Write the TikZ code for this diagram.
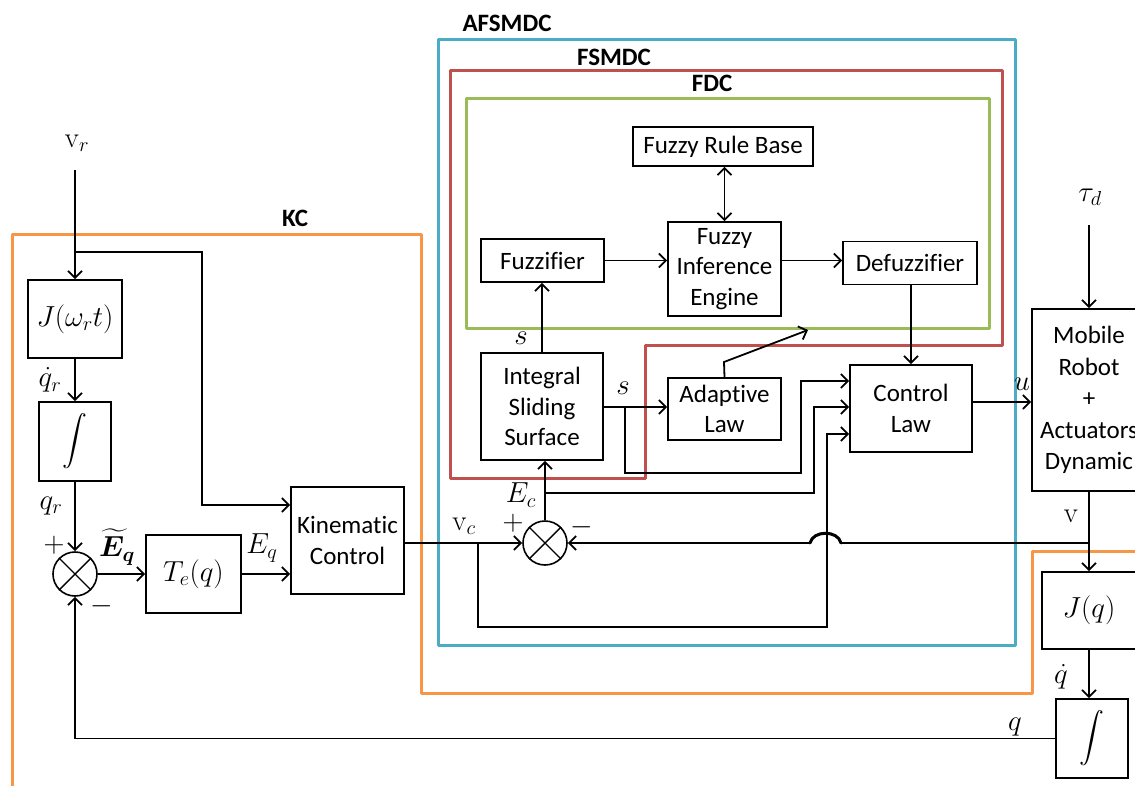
\RequirePackage{fix-cm}
\documentclass[tikz,border=0pt]{standalone}
\usepackage{amsmath,bm}
\usepackage[no-math]{fontspec}
\setmainfont[Ligatures=NoCommon]{Carlito}
\usetikzlibrary{arrows.meta}
\definecolor{kcorange}{HTML}{F79646}
\definecolor{afblue}{HTML}{4BACC6}
\definecolor{fsred}{HTML}{C0504D}
\definecolor{fdgreen}{HTML}{9BBB59}
\begin{document}
\begin{tikzpicture}[x=1pt,y=-1pt,
  font=\fontsize{25}{30.5}\selectfont,
  line width=1.8pt,
  >={Straight Barb[length=7pt,width=14pt]},
  blk/.style={draw, line width=1.6pt, align=center, inner sep=0pt},
  mth/.style={font=\fontsize{29}{34}\selectfont},
  sumn/.style={draw, circle, minimum size=44pt, inner sep=0pt, line width=1.6pt},
  lbl/.style={inner sep=0pt, font=\fontsize{29}{34}\selectfont},
  frame/.style={line width=3pt, line join=round},
  ttl/.style={font=\fontsize{25}{30}\selectfont\bfseries, inner sep=0pt}]
\useasboundingbox (0,0) rectangle (1135,785);

% frames
\draw[frame, kcorange] (12,800) -- (12,234) -- (421,234) -- (421,693) -- (1032,693) -- (1032,551) -- (1150,551);
\draw[frame, afblue] (438,39) rectangle (1015,645);
\draw[frame, fsred] (450,70) -- (1002,70) -- (1002,345) -- (645,345) -- (645,478) -- (450,478) -- cycle;
\draw[frame, fdgreen] (466,98) rectangle (989,328);
\node[ttl] (tkc) at (295,218) {KC};
\node[ttl] (taf) at (507,23) {AFSMDC};
\node[ttl] (tfs) at (614,57) {FSMDC};
\node[ttl] (tfd) at (712,83) {FDC};

% blocks
\node[lbl] (vr) at (77,143) {$\mathrm{v}_r$};
\node[blk, mth, minimum width=94pt, minimum height=78pt] (jw) at (75,319) {$J(\omega_r t)$};
\node[blk, minimum width=72pt, minimum height=79pt] (int1) at (75,441.5) {$\displaystyle\int$};
\node[sumn] (s1) at (75,574) {};
\node[blk, mth, minimum width=95pt, minimum height=78pt] (te) at (193.5,574) {$T_e(q)$};
\node[blk, minimum width=113pt, minimum height=107pt] (kin) at (347.5,540.5) {Kinematic\\Control};
\node[blk, minimum width=122pt, minimum height=107pt] (iss) at (542,406.5) {Integral\\Sliding\\Surface};
\node[blk, minimum width=123pt, minimum height=43pt] (fuz) at (542.5,260.5) {Fuzzifier};
\node[blk, minimum width=180pt, minimum height=39pt] (frb) at (723,146.5) {Fuzzy Rule Base};
\node[blk, minimum width=113pt, minimum height=94pt] (fie) at (724.5,269) {Fuzzy\\Inference\\Engine};
\node[blk, minimum width=134pt, minimum height=43pt] (dfz) at (910,263) {Defuzzifier};
\node[blk, minimum width=113pt, minimum height=62pt] (adl) at (724.5,409) {Adaptive\\Law};
\node[blk, minimum width=122pt, minimum height=87pt] (cl) at (911,408.5) {Control\\Law};
\node[sumn] (s2) at (545,543) {};
\node[blk, minimum width=114pt, minimum height=182pt, font=\fontsize{25}{31.5}\selectfont] (rob) at (1089,400) {Mobile\\Robot\\+\\Actuators\\Dynamic};
\node[lbl] (tau) at (1090,197) {$\tau_d$};
\node[blk, mth, minimum width=94pt, minimum height=77pt] (jq) at (1089,610.5) {$J(q)$};
\node[blk, minimum width=72pt, minimum height=79pt] (int2) at (1092,738.5) {$\displaystyle\int$};

% summing crosses
\foreach \s in {s1,s2} {
  \draw[line width=1.4pt] (\s.north east) -- (\s.south west) (\s.north west) -- (\s.south east);
}

% helper coordinates
\coordinate (vrs) at (75,170);
\coordinate (taus) at (1089,225);
\coordinate (b1) at (75,252);
\coordinate (k1) at (202,505);
\coordinate (bvc) at (478,543);
\coordinate (c827) at (827,627);
\coordinate (bv) at (1089,543);
\coordinate (hr) at (841,543);
\coordinate (hl) at (810,543);
\coordinate (bs) at (625,407);
\coordinate (b801) at (801,473);
\coordinate (bec) at (545,493);
\coordinate (b814) at (814,493);
\coordinate (ad1) at (724,362);
\coordinate (ad2) at (808,330);
\coordinate (cin1) at ([yshift=27.5pt]cl.west);
\coordinate (cin2) at ([yshift=1.5pt]cl.west);
\coordinate (cin3) at ([yshift=-25.5pt]cl.west);
\coordinate (cout) at ([yshift=6.5pt]cl.east);

% connectors
\draw[->] (vrs) -- (jw.north);
\draw[->] (b1) -| (k1) -- (k1 -| kin.west);
\draw[->] (jw.south) -- (int1.north);
\draw[->] (int1.south) -- (s1.north);
\draw[->] (s1.east) -- (te.west);
\draw[->] (te.east) -- (kin.west |- te.east);
\draw[->] (kin.east |- s2.west) -- (s2.west);
\draw[->] (bvc) |- (c827) |- (cin3);
\draw[->] (bv) -- (hr) .. controls (838,530) and (813,530) .. (hl) -- (s2.east);
\draw[line width=3pt, line cap=round] (hr) .. controls (838,530) and (813,530) .. (hl);
\draw[->] (s2.north) -- (s2.north |- iss.south);
\draw[->] (bec) -- (b814) |- (cin2);
\draw[->] (iss.north) -- (iss.north |- fuz.south);
\draw[->] (iss.east |- bs) -- (adl.west |- bs);
\draw[->] (bs) |- (b801) |- (cin1);
\draw[->] (adl.north) -- (ad1) -- (ad2);
\draw[->] (fuz.east) -- (fie.west |- fuz.east);
\draw[->] (fie.east |- fuz.east) -- (dfz.west |- fuz.east);
\draw[<->] (frb.south -| fie.north) -- (fie.north);
\draw[->] (dfz.south -| cl.north) -- (cl.north);
\draw[->] (cout) -- (cout -| rob.west);
\draw[->] (taus) -- (rob.north);
\draw[->] (rob.south) -- (jq.north);
\draw[->] (jq.south) -- (jq.south |- int2.north);
\draw[->] (int2.west) -| (s1.south);

% signal labels
\node[lbl] (lqdr) at (50,380) {$\dot q_r$};
\node[lbl] (lqr) at (51,506) {$q_r$};
\node[lbl] (lp1) at (54,545) {$+$};
\node[lbl] (lm1) at (102,606) {$-$};
\node[lbl] (leqt) at (117,547) {$\widetilde{\bm{E}}_{\bm{q}}$};
\node[lbl] (leq) at (262,548) {$E_q$};
\node[lbl] (lvc) at (464,526) {$\mathrm{v}_c$};
\node[lbl] (lp2) at (513,523) {$+$};
\node[lbl] (lm2) at (582,527) {$-$};
\node[lbl] (lec) at (521,495) {$E_c$};
\node[lbl] (ls1) at (521,338) {$s$};
\node[lbl] (ls2) at (623,388) {$s$};
\node[lbl] (lu) at (1022,384) {$u$};
\node[lbl] (lv) at (1071,516) {$\mathrm{v}$};
\node[lbl] (lqd) at (1061,677) {$\dot q$};
\node[lbl] (lq) at (1015,727) {$q$};
\end{tikzpicture}
\end{document}
